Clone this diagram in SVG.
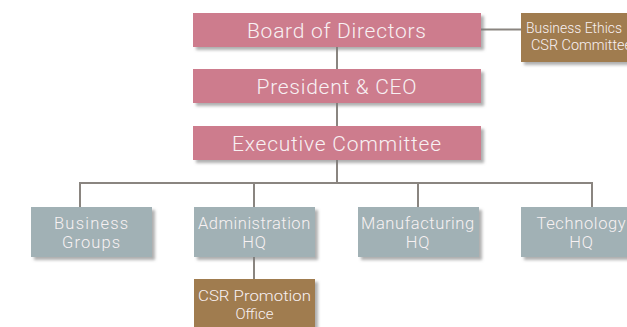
<svg xmlns="http://www.w3.org/2000/svg" width="627" height="327" viewBox="0 0 627 327">
  <defs>
    <filter id="sh" x="-10%" y="-20%" width="130%" height="160%">
      <feDropShadow dx="3" dy="3" stdDeviation="1.5" flood-color="#7a7a7a" flood-opacity="0.6"/>
    </filter>
  </defs>
  <style>
    .pink { fill: #cd7b8d; filter: url(#sh); }
    .blue { fill: #a1b1b5; filter: url(#sh); }
    .brown { fill: #a07c50; filter: url(#sh); }
    .conn { stroke: #8a8580; stroke-width: 2; fill: none; }
    text { font-family: Roboto, "Liberation Sans", Arial, sans-serif; font-weight: 300; fill: #f8f1f3; }
    .big { font-size: 21px; letter-spacing: 1px; text-anchor: middle; }
    .mid { font-size: 16.5px; letter-spacing: 0.8px; text-anchor: middle; }
    .sm { font-size: 15px; }
  </style>
  <rect width="627" height="327" fill="#ffffff"/>
  <g id="connectors">
    <line class="conn" x1="481" y1="29.5" x2="521" y2="29.5"/>
    <line class="conn" x1="337" y1="47" x2="337" y2="69"/>
    <line class="conn" x1="337" y1="103" x2="337" y2="126"/>
    <polyline class="conn" points="337,160 337,183"/>
    <polyline class="conn" points="80,207 80,183 592,183 592,207"/>
    <line class="conn" x1="254" y1="183" x2="254" y2="207"/>
    <line class="conn" x1="418" y1="183" x2="418" y2="207"/>
    <line class="conn" x1="254" y1="257" x2="254" y2="279"/>
  </g>
  <g id="board">
    <rect class="pink" x="193" y="13" width="288" height="34"/>
    <text class="big" x="337" y="38" textLength="180">Board of Directors</text>
  </g>
  <g id="ethics">
    <rect class="brown" x="521" y="13" width="121" height="49"/>
    <text class="sm" x="526" y="33" textLength="96" lengthAdjust="spacingAndGlyphs">Business Ethics</text>
    <text class="sm" x="531" y="50" textLength="101" lengthAdjust="spacingAndGlyphs">CSR Committee</text>
  </g>
  <g id="president">
    <rect class="pink" x="193" y="69" width="288" height="34"/>
    <text class="big" x="337" y="94" textLength="161">President &amp; CEO</text>
  </g>
  <g id="executive">
    <rect class="pink" x="193" y="126" width="288" height="34"/>
    <text class="big" x="337" y="151" textLength="210">Executive Committee</text>
  </g>
  <g id="business-groups">
    <rect class="blue" x="31" y="207" width="121" height="50"/>
    <text class="mid" x="91.5" y="229" textLength="75">Business</text>
    <text class="mid" x="91.5" y="248" textLength="59">Groups</text>
  </g>
  <g id="administration">
    <rect class="blue" x="194" y="207" width="121" height="50"/>
    <text class="mid" x="254.5" y="229" textLength="113">Administration</text>
    <text class="mid" x="254.5" y="248">HQ</text>
  </g>
  <g id="manufacturing">
    <rect class="blue" x="358" y="207" width="121" height="50"/>
    <text class="mid" x="418" y="229" textLength="114">Manufacturing</text>
    <text class="mid" x="418" y="248">HQ</text>
  </g>
  <g id="technology">
    <rect class="blue" x="521" y="207" width="121" height="50"/>
    <text class="mid" x="581.5" y="229" textLength="90">Technology</text>
    <text class="mid" x="581.5" y="248">HQ</text>
  </g>
  <g id="csr-promotion">
    <rect class="brown" x="194" y="279" width="121" height="60"/>
    <text class="sm" x="254.5" y="301" text-anchor="middle" textLength="113" lengthAdjust="spacingAndGlyphs">CSR Promotion</text>
    <text class="sm" x="254.5" y="319" text-anchor="middle" font-size="16">Office</text>
  </g>
</svg>
